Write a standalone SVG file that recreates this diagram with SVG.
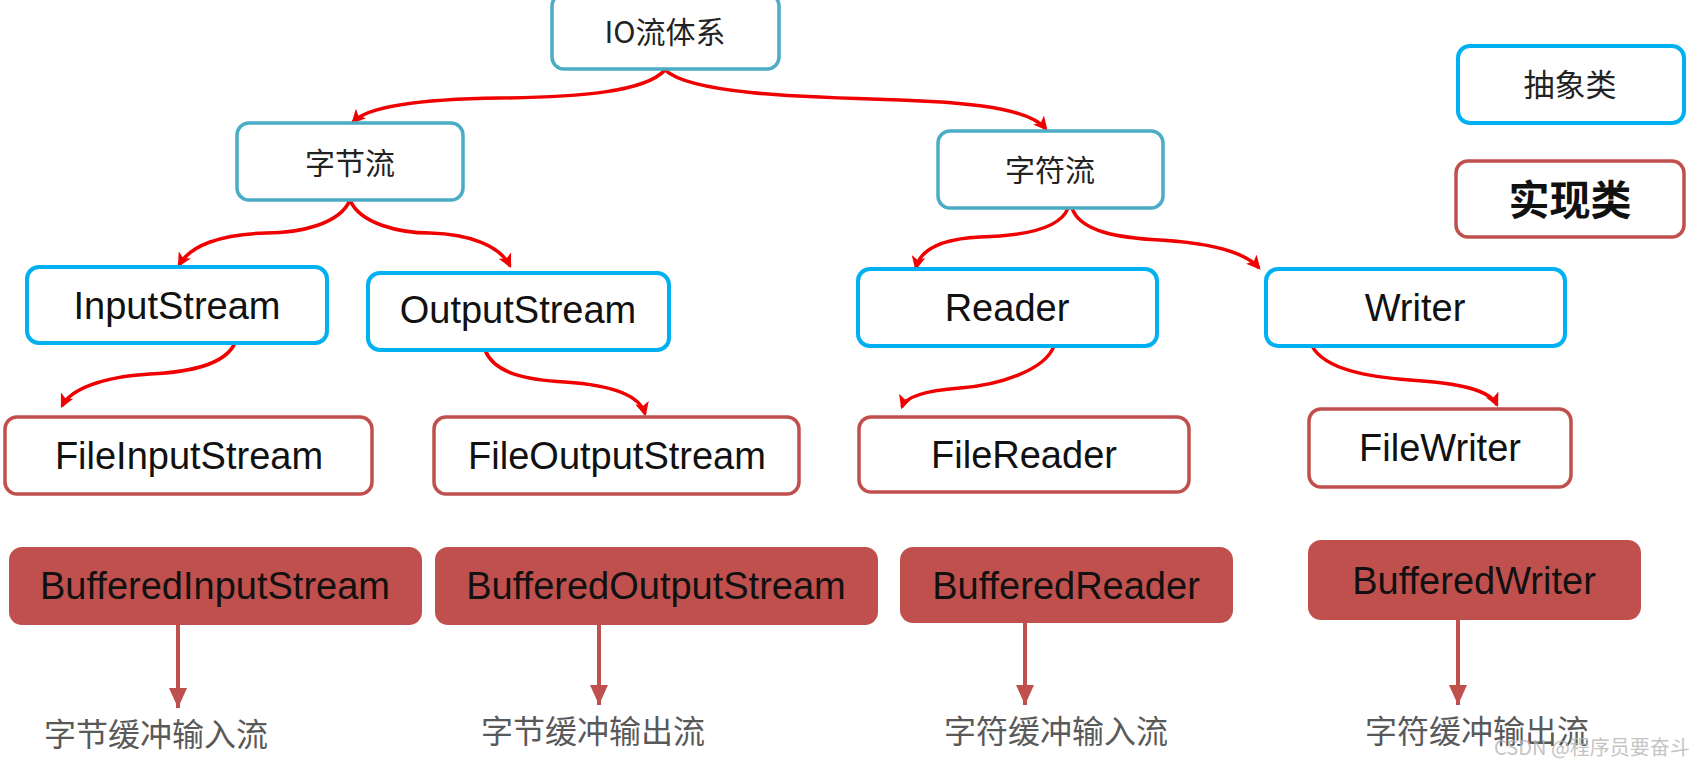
<svg xmlns="http://www.w3.org/2000/svg" width="1703" height="762" viewBox="0 0 1703 762">
<defs>
<style>
.teal{fill:#fff;stroke:#4BACC6;stroke-width:3.5}
.blue{fill:#fff;stroke:#00B0F0;stroke-width:4}
.redo{fill:#fff;stroke:#C0504D;stroke-width:3.5}
.redf{fill:#C0504D;stroke:none}
.en{font-family:"Liberation Sans",Arial,sans-serif;font-size:38px;fill:#111;text-anchor:middle}
.cn{font-family:"Noto Sans CJK SC","Liberation Sans",sans-serif;font-size:30px;fill:#222;text-anchor:middle}
.lbl{font-family:"Noto Sans CJK SC","Liberation Sans",sans-serif;font-size:32px;fill:#595959;text-anchor:middle}
.con{fill:none;stroke:#F00000;stroke-width:3.5}
.down{fill:none;stroke:#C0504D;stroke-width:4}
</style>
<marker id="ar" viewBox="0 0 12 12" refX="10" refY="6" markerWidth="14" markerHeight="14" markerUnits="userSpaceOnUse" orient="auto">
<path d="M0,0 L12,6 L0,12 L3,6 z" fill="#F00000"/>
</marker>
<marker id="dn" viewBox="0 0 20 18" refX="20" refY="9" markerWidth="20" markerHeight="18" markerUnits="userSpaceOnUse" orient="auto">
<path d="M0,0 L20,9 L0,18 z" fill="#C0504D"/>
</marker>
</defs>
<rect width="1703" height="762" fill="#fff"/>

<g id="connectors">
<path class="con" marker-end="url(#ar)" d="M665,70 C645,92 580,97 500,98 C420,99 368,106 353,122"/>
<path class="con" marker-end="url(#ar)" d="M665,70 C690,93 790,97 900,100 C990,103 1032,112 1046,129"/>
<path class="con" marker-end="url(#ar)" d="M350,200 C340,224 300,233 266,233 C220,234 190,246 179,265"/>
<path class="con" marker-end="url(#ar)" d="M350,200 C360,224 400,233 430,233 C470,234 500,246 510,266"/>
<path class="con" marker-end="url(#ar)" d="M235,343 C225,365 190,372 150,374 C100,377 70,390 62,406"/>
<path class="con" marker-end="url(#ar)" d="M485,350 C495,375 530,380 565,382 C610,385 640,395 645,414"/>
<path class="con" marker-end="url(#ar)" d="M1068,208 C1060,230 1020,236 980,237 C940,239 920,250 916,268"/>
<path class="con" marker-end="url(#ar)" d="M1072,208 C1080,232 1120,238 1160,240 C1210,243 1245,252 1259,268"/>
<path class="con" marker-end="url(#ar)" d="M1054,346 C1045,370 1000,385 960,388 C920,391 905,398 902,407"/>
<path class="con" marker-end="url(#ar)" d="M1312,346 C1325,370 1370,377 1410,380 C1460,383 1490,390 1497,405"/>
<path class="down" marker-end="url(#dn)" d="M178,625 L178,708"/>
<path class="down" marker-end="url(#dn)" d="M599,625 L599,705"/>
<path class="down" marker-end="url(#dn)" d="M1025,623 L1025,705"/>
<path class="down" marker-end="url(#dn)" d="M1458,620 L1458,705"/>
</g>

<g id="n-io"><rect class="teal" x="552" y="-6" width="227" height="75" rx="12"/><text class="cn" x="665" y="43">IO流体系</text></g>
<g id="n-byte"><rect class="teal" x="237" y="123" width="226" height="77" rx="12"/><text class="cn" x="350" y="174">字节流</text></g>
<g id="n-char"><rect class="teal" x="938" y="131" width="225" height="77" rx="12"/><text class="cn" x="1050" y="181">字符流</text></g>

<g id="n-legend-abs"><rect class="blue" x="1458" y="46" width="226" height="77" rx="12"/><text class="cn" x="1570" y="96" style="font-size:31px">抽象类</text></g>
<g id="n-legend-impl"><rect class="redo" x="1456" y="161" width="228" height="76" rx="12"/><text class="cn" x="1570" y="215" style="font-size:41px;font-weight:bold;fill:#111">实现类</text></g>

<g id="n-inputstream"><rect class="blue" x="27" y="267" width="300" height="76" rx="12"/><text class="en" x="177" y="319">InputStream</text></g>
<g id="n-outputstream"><rect class="blue" x="368" y="273" width="301" height="77" rx="12"/><text class="en" x="518" y="323">OutputStream</text></g>
<g id="n-reader"><rect class="blue" x="858" y="269" width="299" height="77" rx="12"/><text class="en" x="1007" y="321">Reader</text></g>
<g id="n-writer"><rect class="blue" x="1266" y="269" width="299" height="77" rx="12"/><text class="en" x="1415" y="321">Writer</text></g>

<g id="n-fileinputstream"><rect class="redo" x="5" y="417" width="367" height="77" rx="12"/><text class="en" x="189" y="469">FileInputStream</text></g>
<g id="n-fileoutputstream"><rect class="redo" x="434" y="417" width="365" height="77" rx="12"/><text class="en" x="617" y="469">FileOutputStream</text></g>
<g id="n-filereader"><rect class="redo" x="859" y="417" width="330" height="75" rx="12"/><text class="en" x="1024" y="468">FileReader</text></g>
<g id="n-filewriter"><rect class="redo" x="1309" y="409" width="262" height="78" rx="12"/><text class="en" x="1440" y="461">FileWriter</text></g>

<g id="n-bis"><rect class="redf" x="9" y="547" width="413" height="78" rx="13"/><text class="en" x="215" y="599">BufferedInputStream</text></g>
<g id="n-bos"><rect class="redf" x="435" y="547" width="443" height="78" rx="13"/><text class="en" x="656" y="599">BufferedOutputStream</text></g>
<g id="n-br"><rect class="redf" x="900" y="547" width="333" height="76" rx="13"/><text class="en" x="1066" y="599">BufferedReader</text></g>
<g id="n-bw"><rect class="redf" x="1308" y="540" width="333" height="80" rx="13"/><text class="en" x="1474" y="594">BufferedWriter</text></g>

<g id="labels">
<text class="lbl" x="156" y="746">字节缓冲输入流</text>
<text class="lbl" x="593" y="743">字节缓冲输出流</text>
<text class="lbl" x="1056" y="743">字符缓冲输入流</text>
<text class="lbl" x="1477" y="743">字符缓冲输出流</text>
<text x="1592" y="755" style="font-family:'Noto Sans CJK SC','Liberation Sans',sans-serif;font-size:20px;fill:#B4B4B4;fill-opacity:0.8;text-anchor:middle">CSDN @程序员要奋斗</text>
</g>
</svg>
